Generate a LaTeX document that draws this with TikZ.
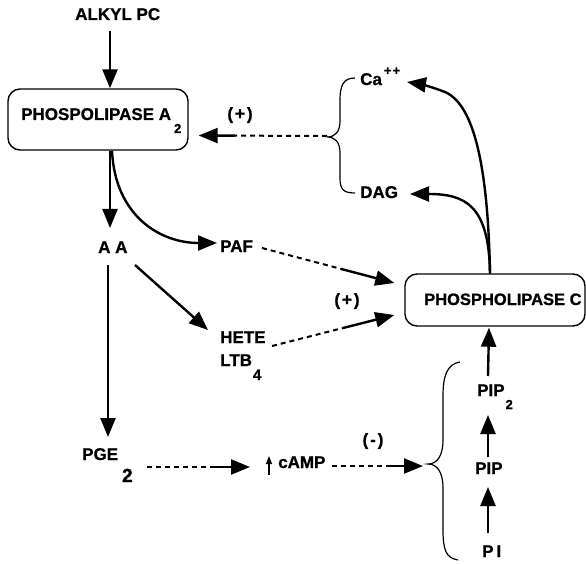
\documentclass[tikz,border=0pt]{standalone}
\usepackage{fontspec}
\setmainfont{Liberation Sans}[BoldFeatures={FakeBold=0.9}]
\usetikzlibrary{arrows.meta,calc}
\tikzset{
  lbl/.style={inner sep=0pt, anchor=base west, font=\fontsize{17pt}{20pt}\selectfont\bfseries},
  sgn/.style={inner sep=0pt, font=\fontsize{17pt}{20pt}\selectfont\bfseries},
  boxn/.style={draw, line width=1.4pt, rounded corners=12pt, inner sep=0pt},
  arr/.style={line width=2.4pt, -{Triangle[width=15pt,length=19pt]}},
  dsh/.style={line width=2pt, dash pattern=on 5pt off 4pt},
  brc/.style={line width=1.2pt},
}
\begin{document}
\begin{tikzpicture}[x=1pt,y=-1pt]
\useasboundingbox[fill=white] (0,0) rectangle (586,564);

% boxes
\node[boxn, minimum width=180pt, minimum height=61pt] (pla2) at (98,119.5) {};
\node[lbl] (pla2t) at (21,120) {PHOSPOLIPASE A\kern3pt\raisebox{-13pt}{\fontsize{13pt}{13pt}\selectfont 2}};
\node[boxn, minimum width=180pt, minimum height=52pt] (plc) at (495,300) {};
\node[lbl, font=\fontsize{16.5pt}{20pt}\selectfont\bfseries] (plct) at (424,305) {PHOSPHOLIPASE C};

% labels
\node[lbl] (alkyl) at (75,20) {ALKYL PC};
\node[sgn] (pm1) at (240,115) {(\kern2pt+\kern2pt)};
\node[lbl] (ca) at (360,85) {Ca\kern2pt\raisebox{10pt}{\fontsize{13pt}{13pt}\selectfont +\kern1pt+}};
\node[lbl] (dag) at (360,198) {DAG};
\node[lbl] (aa) at (98,253) {A A};
\node[lbl] (paf) at (220,252) {PAF};
\node[lbl] (hete) at (220,343) {HETE};
\node[lbl] (ltb) at (220,366) {LTB\kern1pt\raisebox{-14pt}{\fontsize{15pt}{15pt}\selectfont 4}};
\node[sgn] (pm2) at (347,301) {(\kern2pt+\kern2pt)};
\node[lbl] (pge) at (82,460) {PGE\kern4pt\raisebox{-22pt}{\fontsize{19pt}{19pt}\selectfont 2}};
\node[lbl] (camp) at (278,468) {cAMP};
\node[sgn] (pm3) at (373,441) {(\kern2pt-\kern2pt)};
\node[lbl] (pip2) at (477,396) {PIP\kern1pt\raisebox{-13pt}{\fontsize{13pt}{13pt}\selectfont 2}};
\node[lbl] (pip) at (475,474) {PIP};
\node[lbl] (pi) at (482,557) {P\kern3pt I};

% braces
\coordinate (b1) at (327,137);
\draw[brc] (355,78) .. controls (343,78) and (340,86) .. (340,100) -- (340,121)
  .. controls (340,132) and (335,137) .. (b1)
  .. controls (335,137) and (340,142) .. (340,153) -- (340,178)
  .. controls (340,189) and (343,193) .. (355,193);
\coordinate (b2) at (428,464);
\draw[brc] (460,362) .. controls (447,364) and (443,376) .. (443,396) -- (443,440)
  .. controls (443,456) and (437,464) .. (b2)
  .. controls (437,464) and (443,472) .. (443,488) -- (443,530)
  .. controls (443,550) and (446,558) .. (458,560);

% solid connectors
\draw[arr] ($(alkyl.base west)+(35,11)$) -- ($(pla2.north)+(12,0)$);
\draw[arr] ($(pla2.south)+(12,0)$) -- ($(aa.base west)+(12,-25)$);
\draw[arr] ($(pla2.south)+(14,0)$) .. controls +(3,65) and +(-57,0) .. ($(paf.base west)+(-3,-9)$);
\draw[arr] ($(aa.base west)+(37,12)$) -- ($(hete.base west)+(-12,-13)$);
\draw[arr] ($(aa.base west)+(10,12)$) -- ($(pge.base west)+(26,-23)$);
\draw[arr] ($(plc.north)+(-5,0)$) .. controls (488,170) and (475,105) .. (445,92)
  .. controls (432,87) and (420,84) .. ($(ca.base west)+(47,-3)$);
\draw[arr] ($(plc.north)+(-5,0)$) .. controls (489,205) and (465,194) .. ($(dag.base west)+(50,-4)$);
\draw[arr] ($(pi.base west)+(6,-24)$) -- ($(pip.base west)+(13,13)$);
\draw[arr] ($(pip.base west)+(13,-17)$) -- ($(pip2.base west)+(11,19)$);
\draw[arr] ($(pip2.base west)+(11,-20)$) -- ($(plc.south)+(-6,1)$);
\draw[line width=1.4pt, -{Triangle[width=6pt,length=8pt]}] ($(camp.base west)+(-9,7)$) -- ($(camp.base west)+(-9,-12)$);

% dashed connectors with solid ends
\coordinate (s1) at ($(b1)+(0,-1)$);
\coordinate (e1) at ($(pla2.east)+(10,16)$);
\draw[dsh] (s1) -- ($(s1)!0.73!(e1)$);
\draw[arr] ($(s1)!0.72!(e1)$) -- (e1);

\coordinate (s2) at ($(paf.base west)+(42,-4)$);
\coordinate (e2) at ($(plc.west)+(-10,-17)$);
\draw[dsh] (s2) -- ($(s2)!0.61!(e2)$);
\draw[arr] ($(s2)!0.6!(e2)$) -- (e2);

\coordinate (s3) at ($(hete.base west)+(52,3)$);
\coordinate (e3) at ($(plc.west)+(-10,15)$);
\draw[dsh] (s3) -- ($(s3)!0.59!(e3)$);
\draw[arr] ($(s3)!0.58!(e3)$) -- (e3);

\coordinate (s4) at ($(pge.base west)+(65,7)$);
\coordinate (e4) at ($(camp.base west)+(-28,-1)$);
\draw[dsh] (s4) -- ($(s4)!0.65!(e4)$);
\draw[arr] ($(s4)!0.64!(e4)$) -- (e4);

\coordinate (s5) at ($(camp.base west)+(54,-2)$);
\coordinate (e5) at ($(b2)+(-5,2)$);
\draw[dsh] (s5) -- ($(s5)!0.63!(e5)$);
\draw[arr] ($(s5)!0.62!(e5)$) -- (e5);
\end{tikzpicture}
\end{document}
